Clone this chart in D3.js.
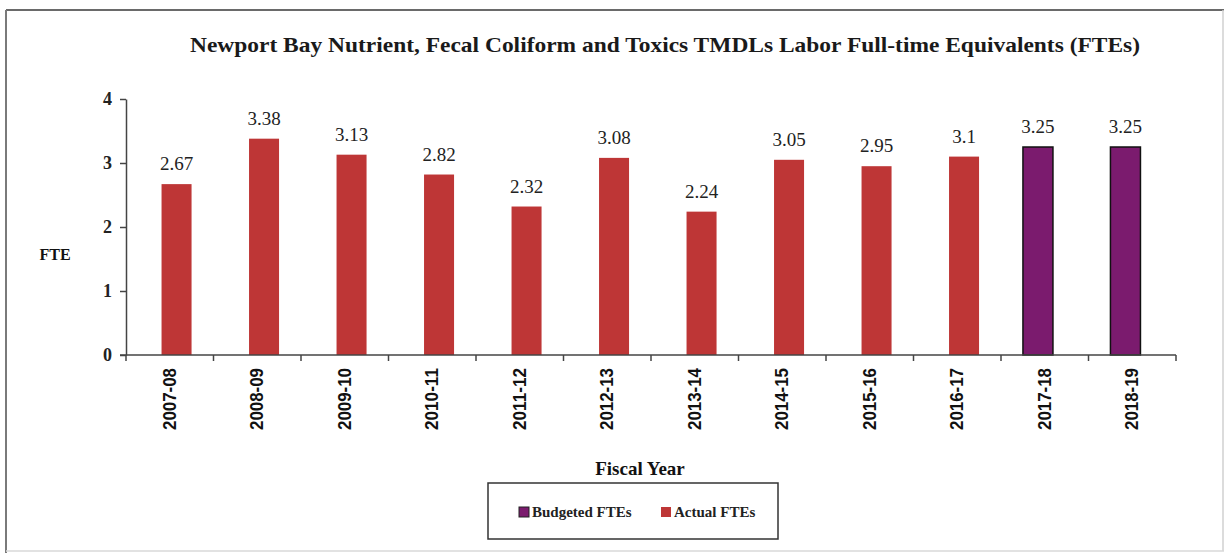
<!DOCTYPE html>
<html>
<head>
<meta charset="utf-8">
<script src="https://cdn.jsdelivr.net/npm/d3@7"></script>
<style>
  html, body { margin: 0; padding: 0; background: #fff; }
  svg { display: block; }
</style>
</head>
<body>
<svg id="chart" width="1225" height="553"></svg>
<script>
const categories = ["2007-08","2008-09","2009-10","2010-11","2011-12","2012-13","2013-14","2014-15","2015-16","2016-17","2017-18","2018-19"];
const actualFTEs = [2.67, 3.38, 3.13, 2.82, 2.32, 3.08, 2.24, 3.05, 2.95, 3.1, null, null];
const budgetedFTEs = [null, null, null, null, null, null, null, null, null, null, 3.25, 3.25];
const seriesNames = ["Budgeted FTEs", "Actual FTEs"];
const yTicks = [0, 1, 2, 3, 4];

const colors = { "Budgeted FTEs": "#7B1B6E", "Actual FTEs": "#BE3636" };
const serif = "'Liberation Serif', 'DejaVu Serif', serif";
const narrow = "'Liberation Sans Narrow', 'Liberation Sans', Arial, sans-serif";

const svg = d3.select("#chart");

// outer frame
svg.append("line").attr("x1", 6).attr("x2", 1224).attr("y1", 10).attr("y2", 10)
  .attr("stroke", "#6a6a6a").attr("stroke-width", 2);
svg.append("line").attr("x1", 6).attr("x2", 6).attr("y1", 10).attr("y2", 553)
  .attr("stroke", "#7a7a7a").attr("stroke-width", 2);
svg.append("line").attr("x1", 1223).attr("x2", 1223).attr("y1", 10).attr("y2", 551)
  .attr("stroke", "#d0d0d0").attr("stroke-width", 1.5);
svg.append("line").attr("x1", 6).attr("x2", 1224).attr("y1", 551).attr("y2", 551)
  .attr("stroke", "#d8d8d8").attr("stroke-width", 1.5);

const x = d3.scaleBand().domain(categories).range([126, 1176]).paddingInner(0).paddingOuter(0);
const y = d3.scaleLinear().domain([0, 4]).range([355, 99]);
const barW = x.bandwidth() * 0.343;
const sub = d3.scalePoint().domain(seriesNames).range([-6.8, 6.8]);

// title
svg.append("text").attr("x", 665).attr("y", 52).attr("text-anchor", "middle")
  .attr("font-family", serif).attr("font-weight", "bold").attr("font-size", 21)
  .attr("textLength", 950).attr("lengthAdjust", "spacingAndGlyphs")
  .attr("fill", "#1a1a1a")
  .text("Newport Bay Nutrient, Fecal Coliform and Toxics TMDLs Labor Full-time Equivalents (FTEs)");

// bars
const rows = [];
categories.forEach((c, i) => {
  if (budgetedFTEs[i] != null) rows.push({ cat: c, series: "Budgeted FTEs", value: budgetedFTEs[i] });
  if (actualFTEs[i] != null) rows.push({ cat: c, series: "Actual FTEs", value: actualFTEs[i] });
});

const g = svg.append("g");
g.selectAll("rect.bar").data(rows).enter().append("rect")
  .attr("class", "bar")
  .attr("x", d => x(d.cat) + x.bandwidth() / 2 + sub(d.series) - barW / 2)
  .attr("y", d => y(d.value))
  .attr("width", barW)
  .attr("height", d => y(0) - y(d.value))
  .attr("fill", d => colors[d.series])
  .attr("stroke", d => d.series === "Budgeted FTEs" ? "#111" : "none")
  .attr("stroke-width", 1.5);

g.selectAll("text.val").data(rows).enter().append("text")
  .attr("class", "val")
  .attr("x", d => x(d.cat) + x.bandwidth() / 2 + sub(d.series))
  .attr("y", d => y(d.value) - 14)
  .attr("text-anchor", "middle")
  .attr("font-family", serif).attr("font-size", 19).attr("fill", "#222")
  .text(d => d.value);

// y axis
const yAxis = svg.append("g").attr("transform", "translate(126,0)")
  .call(d3.axisLeft(y).tickValues(yTicks).tickSize(6).tickSizeOuter(0).tickFormat(d3.format("d")));
yAxis.select(".domain").attr("stroke", "#444").attr("stroke-width", 1.5);
yAxis.selectAll(".tick line").attr("stroke", "#444").attr("stroke-width", 1.5);
yAxis.selectAll(".tick text").attr("font-family", serif).attr("font-weight", "bold")
  .attr("font-size", 18).attr("fill", "#222").attr("x", -14);

// x axis
const xAxis = svg.append("g").attr("transform", "translate(0,355)");
xAxis.append("line").attr("x1", 120).attr("x2", 1176).attr("y1", 0).attr("y2", 0)
  .attr("stroke", "#444").attr("stroke-width", 1.5);
const boundaries = categories.map(c => x(c)).concat([x.range()[1]]);
xAxis.selectAll("line.tk").data(boundaries).enter().append("line")
  .attr("class", "tk").attr("x1", d => d).attr("x2", d => d).attr("y1", 0).attr("y2", 6)
  .attr("stroke", "#444").attr("stroke-width", 1.5);
xAxis.selectAll("text.cat").data(categories).enter().append("text")
  .attr("class", "cat")
  .attr("transform", d => `translate(${x(d) + x.bandwidth() / 2 + 6},${13}) rotate(-90)`)
  .attr("text-anchor", "end")
  .attr("font-family", narrow).attr("font-weight", "bold").attr("font-size", 18)
  .attr("textLength", 62).attr("lengthAdjust", "spacingAndGlyphs")
  .attr("fill", "#111")
  .text(d => d);

// axis titles
svg.append("text").attr("x", 55).attr("y", 260).attr("text-anchor", "middle")
  .attr("font-family", serif).attr("font-weight", "bold").attr("font-size", 16).attr("fill", "#111")
  .text("FTE");
svg.append("text").attr("x", 640).attr("y", 475).attr("text-anchor", "middle")
  .attr("font-family", serif).attr("font-weight", "bold").attr("font-size", 19).attr("fill", "#111")
  .text("Fiscal Year");

// legend
const leg = svg.append("g");
leg.append("rect").attr("x", 488).attr("y", 483).attr("width", 290).attr("height", 56)
  .attr("fill", "#fff").attr("stroke", "#333").attr("stroke-width", 1.5);
const legX = { "Budgeted FTEs": 519, "Actual FTEs": 661 };
seriesNames.forEach(s => {
  leg.append("rect").attr("x", legX[s]).attr("y", 507).attr("width", 10).attr("height", 10)
    .attr("fill", colors[s]).attr("stroke", s === "Budgeted FTEs" ? "#222" : "none");
  leg.append("text").attr("x", legX[s] + 13).attr("y", 517)
    .attr("font-family", serif).attr("font-weight", "bold").attr("font-size", 15).attr("fill", "#222")
    .text(s);
});
</script>
</body>
</html>
